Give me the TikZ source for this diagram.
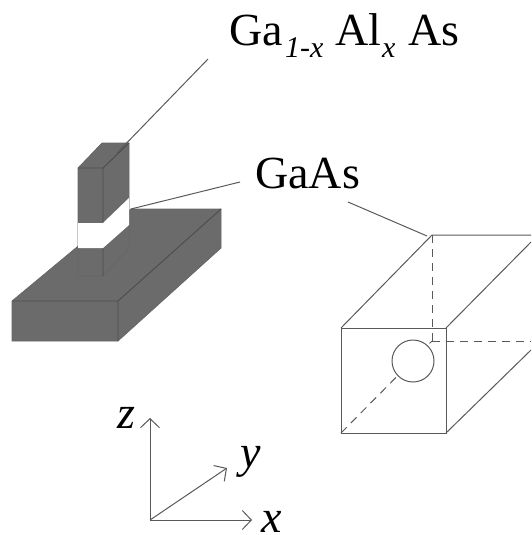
\documentclass[tikz,border=0pt]{standalone}
\usepackage{amsmath, amssymb}
\usepackage{xcolor}
\usepackage{fontspec}
\setmainfont{Liberation Serif}
\usepackage{tikz}
\usetikzlibrary{arrows.meta}

\definecolor{alloygray}{gray}{0.42}
\tikzset{
    wire/.style={draw=black!65, line width=1pt},
    edge/.style={draw=black!70, line width=0.9pt},
    solid box/.style={fill=alloygray, draw=black!60, line width=0.7pt},
    hidden/.style={wire, dash pattern=on 8pt off 6pt},
    axis/.style={wire, -{Straight Barb[length=9pt, width=19pt, line width=1pt]}},
    big label/.style={font=\fontsize{46}{48}\selectfont, inner sep=0pt},
    axis label/.style={font=\fontsize{46}{46}\selectfont\itshape, inner sep=0pt},
    sub label/.style={font=\fontsize{30}{30}\selectfont\itshape, inner sep=0pt},
}

\begin{document}
\begin{tikzpicture}[x=1pt, y=-1pt]
    \useasboundingbox (0,0) rectangle (531,535);

    % slab
    \draw[solid box] (12,301) -- (77,247) -- (131,209) -- (221,209) -- (221,248) -- (118,341) -- (12,341) -- cycle;
    \draw[edge] (12,301) -- (118,301) -- (221,209) (118,301) -- (118,341);

    % post
    \draw[solid box] (78,168) -- (102,143) -- (129,143) -- (129,248) -- (103,276) -- (78,276) -- cycle;
    \draw[edge] (78,168) -- (103,168) -- (129,143) (103,168) -- (103,276);
    \fill[white] (78,223) -- (103,223) -- (129,198) -- (129,225) -- (103,248) -- (78,248) -- cycle;

    % hollow box
    \draw[wire] (341,328) rectangle (446,433);
    \draw[wire] (341,328) -- (432,235) -- (531,235);
    \draw[wire] (446,328) -- (531,242);
    \draw[wire] (446,433) -- (531,350);
    \draw[hidden] (432,235) -- (432,341);
    \draw[hidden] (432,341) -- (531,341);
    \draw[hidden] (341,433) -- (432,341);
    \filldraw[wire, fill=white] (413,361) circle (21);

    % labels
    \node[big label, anchor=base west] (ga) at (229,46) {Ga};
    \node[sub label, anchor=base west] (gasub) at (285,58) {1-x};
    \node[big label, anchor=base west] (al) at (335,46) {Al};
    \node[sub label, anchor=base west] (alsub) at (382,58) {x};
    \node[big label, anchor=base west] (as) at (408,46) {As};
    \node[big label, anchor=base west] (gaas) at (255,188) {GaAs};
    \coordinate (alloyend) at (117,153);
    \coordinate (alloystart) at (208,59);
    \coordinate (gaasleft) at (131,209);
    \coordinate (gaasleftstart) at (240,182);
    \coordinate (gaasright) at (427,236);
    \coordinate (gaasrightstart) at (348,202);
    \draw[wire] (alloystart) -- (alloyend);
    \draw[wire] (gaasleftstart) -- (gaasleft);
    \draw[wire] (gaasrightstart) -- (gaasright);

    % axes
    \coordinate (origin) at (150,520);
    \draw[axis] (origin) -- (150,418) coordinate (zend);
    \draw[axis] (origin) -- (227,468) coordinate (yend);
    \draw[axis] (origin) -- (252,520) coordinate (xend);
    \node[axis label, anchor=base] (zlab) at (126,428) {z};
    \node[axis label, anchor=base] (ylab) at (251,467) {y};
    \node[axis label, anchor=base] (xlab) at (272,532) {x};
\end{tikzpicture}
\end{document}
